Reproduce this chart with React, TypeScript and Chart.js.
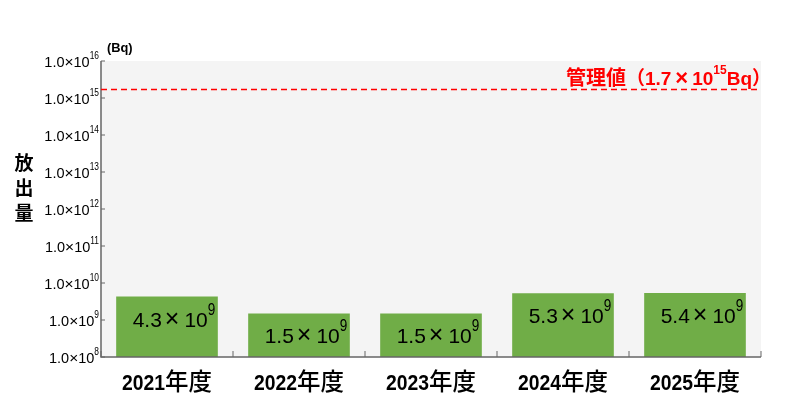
import { useRef, useEffect } from "react";
import { Chart, registerables } from "chart.js";

Chart.register(...registerables);

// Data
const years = ["2021年度", "2022年度", "2023年度", "2024年度", "2025年度"];
const releases = [4.3e9, 1.5e9, 1.5e9, 5.3e9, 5.4e9]; // Bq
const yTickExponents = [8, 9, 10, 11, 12, 13, 14, 15, 16];
const limitValue = 1.7e15; // 管理値
const limitMantissa = "1.7";
const limitExponent = "15";

const LAT = "'Liberation Sans', Arial, sans-serif";
const CJK = "'Noto Sans CJK JP', sans-serif";
const AXIS_COLOR = "#666666";

// a run of text: its own font, horizontal squeeze, vertical shift, optional layout width
type Run = { text: string; font: string; sx?: number; dy?: number; w?: number };

function runWidth(ctx: CanvasRenderingContext2D, r: Run) {
  if (r.w !== undefined) return r.w;
  ctx.font = r.font;
  return ctx.measureText(r.text).width * (r.sx ?? 1);
}

function runsWidth(ctx: CanvasRenderingContext2D, runs: Run[]) {
  return runs.reduce((s, r) => s + runWidth(ctx, r), 0);
}

// x is the left edge, y the baseline
function drawRuns(ctx: CanvasRenderingContext2D, runs: Run[], x: number, y: number) {
  ctx.textAlign = "left";
  ctx.textBaseline = "alphabetic";
  let cx = x;
  for (const r of runs) {
    const w = runWidth(ctx, r);
    ctx.font = r.font;
    ctx.save();
    ctx.translate(cx, y + (r.dy ?? 0));
    ctx.scale(r.sx ?? 1, 1);
    ctx.fillText(r.text, 0, 0);
    ctx.restore();
    cx += w;
  }
}

const decorations = {
  id: "decorations",
  beforeDraw(chart: any) {
    const { ctx, chartArea: a } = chart;
    ctx.save();
    ctx.fillStyle = "#f4f4f4";
    ctx.fillRect(a.left, a.top, a.right - a.left, a.bottom - a.top);
    ctx.restore();
  },
  afterDraw(chart: any) {
    const { ctx, chartArea: a } = chart;
    const y = chart.scales.y;
    const x = chart.scales.x;
    ctx.save();

    // axes
    ctx.strokeStyle = AXIS_COLOR;
    ctx.lineWidth = 1.5;
    ctx.beginPath();
    ctx.moveTo(a.left, a.top);
    ctx.lineTo(a.left, a.bottom);
    ctx.lineTo(a.right, a.bottom);
    ctx.stroke();

    // y ticks (inward) + labels
    ctx.lineWidth = 1;
    ctx.fillStyle = "#000";
    for (const e of yTickExponents) {
      const py = y.getPixelForValue(Math.pow(10, e));
      ctx.beginPath();
      ctx.moveTo(a.left, py);
      ctx.lineTo(a.left + 4, py);
      ctx.stroke();
      const runs: Run[] = [
        { text: "1.0", font: `14.5px ${LAT}` },
        { text: "×", font: `15.5px ${LAT}` },
        { text: "10", font: `14.5px ${LAT}` },
        { text: String(e), font: `10.5px ${LAT}`, sx: 0.8, dy: -8.5 },
      ];
      const w = runsWidth(ctx, runs);
      drawRuns(ctx, runs, a.left - 2 - w, py + 6);
    }

    // x boundary ticks (inward)
    const n = years.length;
    for (let i = 0; i <= n; i++) {
      let px: number;
      if (i === 0) px = a.left;
      else if (i === n) px = a.right;
      else px = (x.getPixelForValue(i - 1) + x.getPixelForValue(i)) / 2;
      ctx.beginPath();
      ctx.moveTo(px, a.bottom);
      ctx.lineTo(px, a.bottom - 6);
      ctx.stroke();
    }

    // x labels
    years.forEach((label, i) => {
      const num = label.replace(/[^0-9]/g, "");
      const rest = label.slice(num.length);
      const runs: Run[] = [
        { text: num, font: `bold 22px ${LAT}`, sx: 0.88 },
        { text: rest, font: `500 23.5px ${CJK}` },
      ];
      const w = runsWidth(ctx, runs);
      drawRuns(ctx, runs, x.getPixelForValue(i) - w / 2, a.bottom + 33);
    });

    // bar value labels
    const meta = chart.getDatasetMeta(0);
    meta.data.forEach((bar: any, i: number) => {
      const v = releases[i];
      const exp = Math.floor(Math.log10(v));
      const man = (v / Math.pow(10, exp)).toFixed(1);
      const runs: Run[] = [
        { text: man, font: `21px ${LAT}` },
        { text: "", font: `21px ${LAT}`, w: 3 },
        { text: "×", font: `25px ${LAT}` },
        { text: "", font: `21px ${LAT}`, w: 5 },
        { text: "10", font: `21px ${LAT}` },
        { text: String(exp), font: `16px ${LAT}`, sx: 0.85, dy: -12 },
      ];
      const w = runsWidth(ctx, runs);
      ctx.fillStyle = "#000";
      drawRuns(ctx, runs, bar.x + 7 - w / 2, bar.y + 30);
    });

    // limit line
    const ly = y.getPixelForValue(limitValue);
    ctx.strokeStyle = "#ff0000";
    ctx.lineWidth = 1.5;
    ctx.setLineDash([6, 4]);
    ctx.beginPath();
    ctx.moveTo(a.left, ly);
    ctx.lineTo(a.right, ly);
    ctx.stroke();
    ctx.setLineDash([]);

    // limit label
    ctx.fillStyle = "#ff0000";
    const limitRuns: Run[] = [
      { text: "管理値", font: `bold 20px ${CJK}` },
      { text: "（", font: `bold 19px ${CJK}` },
      { text: limitMantissa, font: `bold 19px ${LAT}` },
      { text: "", font: `19px ${LAT}`, w: 4 },
      { text: "×", font: `bold 22px ${LAT}` },
      { text: "", font: `19px ${LAT}`, w: 4 },
      { text: "10", font: `bold 19px ${LAT}` },
      { text: limitExponent, font: `bold 12px ${LAT}`, dy: -11 },
      { text: "Bq", font: `bold 19px ${LAT}` },
      { text: "）", font: `bold 19px ${CJK}`, w: 8 },
    ];
    const lw = runsWidth(ctx, limitRuns);
    drawRuns(ctx, limitRuns, a.right - 1 - lw, ly - 4);

    // unit + axis title
    ctx.fillStyle = "#000";
    drawRuns(ctx, [{ text: "(Bq)", font: `bold 13.5px ${LAT}`, sx: 0.95 }], a.left + 6, 52);

    ctx.font = `bold 19px ${CJK}`;
    ctx.textAlign = "center";
    ctx.textBaseline = "middle";
    ["放", "出", "量"].forEach((c, i) => ctx.fillText(c, 24, 163 + i * 25));

    ctx.restore();
  },
};

export default function App() {
  const chartRef = useRef<HTMLCanvasElement>(null);

  useEffect(() => {
    document.body.style.margin = "0";
    if (!chartRef.current) return;

    const chart = new Chart(chartRef.current, {
      type: "bar",
      data: {
        labels: years,
        datasets: [
          {
            data: releases,
            backgroundColor: "#70ad47",
            borderWidth: 0,
            categoryPercentage: 1,
            barPercentage: 0.77,
          },
        ],
      },
      options: {
        responsive: true,
        maintainAspectRatio: false,
        animation: false,
        layout: { padding: { left: 101, right: 39, top: 61, bottom: 56 } },
        scales: {
          x: { display: false },
          y: { type: "logarithmic", display: false, min: 1e8, max: 1e16 },
        },
        plugins: {
          legend: { display: false },
          tooltip: { enabled: false },
        },
      },
      plugins: [decorations],
    });

    return () => chart.destroy();
  }, []);

  return (
    <div style={{ width: 800, height: 413, position: "relative", background: "#fff" }}>
      <canvas ref={chartRef} />
    </div>
  );
}
